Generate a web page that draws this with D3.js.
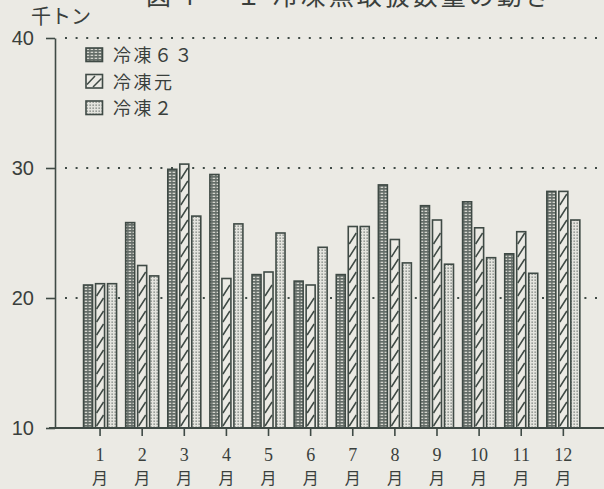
<!DOCTYPE html>
<html>
<head>
<meta charset="utf-8">
<script src="https://cdn.jsdelivr.net/npm/d3@7"></script>
<style>
  body { margin:0; background:#ebeae4; }
  svg { display:block; }
</style>
</head>
<body>
<div id="chart"></div>
<script>
// 月別データ（千トン）
const months = ["1","2","3","4","5","6","7","8","9","10","11","12"];
const seriesNames = ["冷凍６３","冷凍元","冷凍２"];
const reito63 = [21.0,25.8,29.9,29.5,21.8,21.3,21.8,28.7,27.1,27.4,23.4,28.2];
const reitoGan = [21.1,22.5,30.3,21.5,22.0,21.0,25.5,24.5,26.0,25.4,25.1,28.2];
const reito2 = [21.1,21.7,26.3,25.7,25.0,23.9,25.5,22.7,22.6,23.1,21.9,26.0];
const yTicks = [10,20,30,40];
const gridTicks = [20,30,40];

const ink = "#3f4a45";
const paper = "#ebeae4";
const W = 604, H = 489;

const svg = d3.select("#chart").append("svg").attr("width",W).attr("height",H);
svg.append("rect").attr("width",W).attr("height",H).attr("fill",paper);

// patterns
const defs = svg.append("defs");
const p1 = defs.append("pattern").attr("id","pat63").attr("patternUnits","userSpaceOnUse")
  .attr("width",4).attr("height",3);
p1.append("rect").attr("width",4).attr("height",3).attr("fill","#646d68");
p1.append("rect").attr("x",0.6).attr("y",0.7).attr("width",2.6).attr("height",1.3).attr("fill","#d6d6cf");
const p3 = defs.append("pattern").attr("id","pat2").attr("patternUnits","userSpaceOnUse")
  .attr("width",3).attr("height",3);
p3.append("rect").attr("width",3).attr("height",3).attr("fill","#e4e4de");
p3.append("rect").attr("x",0.5).attr("y",0.5).attr("width",1.3).attr("height",1.3).attr("fill","#6f7772");

const fills = ["url(#pat63)", paper, "url(#pat2)"];

const x0 = d3.scaleBand().domain(months).range([79, 584.4]).padding(0);
const groupW = 33;
const x1 = d3.scaleBand().domain(seriesNames).range([0, groupW]).paddingInner(0.25).paddingOuter(0);
const y = d3.scaleLinear().domain([10,40]).range([428,38]);

// grid lines (dotted)
svg.append("g").selectAll("line").data(gridTicks).enter().append("line")
  .attr("x1",65).attr("x2",W).attr("y1",d=>y(d)).attr("y2",d=>y(d))
  .attr("stroke",ink).attr("stroke-width",2).attr("stroke-dasharray","2,8.6");

// bars
const rows = months.map((m,i)=>({m:m, vals:[reito63[i],reitoGan[i],reito2[i]]}));
const barData = [];
rows.forEach(r=>r.vals.forEach((v,j)=>barData.push({m:r.m, s:seriesNames[j], j:j, v:v})));

function slashPath(x, top, w, bottom){
  const step = 13, rise = 11;
  let d = "";
  for(let y0 = bottom - 2; y0 - rise > top + 1; y0 -= step){
    d += `M${x+1},${y0}L${x+w-1},${y0-rise}`;
  }
  return d;
}

const bx = d => x0(d.m) + x0.bandwidth()/2 - groupW/2 + x1(d.s);
const g = svg.append("g");
g.selectAll("rect.bar").data(barData).enter().append("rect").attr("class","bar")
  .attr("x",bx).attr("y",d=>y(d.v)).attr("width",x1.bandwidth())
  .attr("height",d=>y(10)-y(d.v)).attr("fill",d=>fills[d.j])
  .attr("stroke",ink).attr("stroke-width",1.6);
g.selectAll("path.slash").data(barData.filter(d=>d.j===1)).enter().append("path")
  .attr("class","slash")
  .attr("d",d=>slashPath(bx(d), y(d.v), x1.bandwidth(), y(10)))
  .attr("stroke",ink).attr("stroke-width",1.5).attr("fill","none");

// y axis
const yAxis = d3.axisLeft(y).tickValues(yTicks).tickSize(9).tickSizeOuter(0).tickPadding(12);
const yg = svg.append("g").attr("transform","translate(55,0)").call(yAxis);
yg.select(".domain").attr("stroke",ink).attr("stroke-width",1.6);
yg.selectAll(".tick line").attr("stroke",ink).attr("stroke-width",1.6);
yg.selectAll(".tick text").attr("fill","#3a3f3c").style("font-family","Liberation Sans, Arial, sans-serif").style("font-size","20px");

// baseline
svg.append("line").attr("x1",49).attr("x2",W).attr("y1",y(10)).attr("y2",y(10))
  .attr("stroke",ink).attr("stroke-width",1.8);

// x axis ticks and labels
const xAxis = d3.axisBottom(x0).tickSize(8).tickFormat("");
const xg = svg.append("g").attr("transform",`translate(0,${y(10)})`).call(xAxis);
xg.select(".domain").remove();
xg.selectAll(".tick line").attr("stroke",ink).attr("stroke-width",1.6);
const lab = svg.append("g").selectAll("g").data(months).enter().append("g")
  .attr("transform",d=>`translate(${x0(d)+x0.bandwidth()/2},0)`);
lab.append("text").attr("y",461).attr("text-anchor","middle")
  .style("font-family","Liberation Serif, DejaVu Serif, serif").style("font-size","18px")
  .attr("fill","#3a3f3c").text(d=>d);
lab.append("text").attr("y",484).attr("text-anchor","middle")
  .style("font-family","Noto Sans CJK JP").style("font-size","16px")
  .attr("fill","#3a3f3c").text("月");

// unit label
svg.append("text").attr("x",31).attr("y",24).style("font-family","Noto Sans CJK JP")
  .style("font-size","20px").attr("fill","#3a3f3c").text("千トン");

// title (cut off at top)
svg.append("text").attr("x",146).attr("y",5).style("font-family","Noto Sans CJK JP")
  .style("font-size","25px").attr("fill","#3a3f3c").attr("letter-spacing","3px")
  .text("図４ − １  冷凍魚取扱数量の動き");

// legend
const leg = svg.append("g").selectAll("g").data(seriesNames).enter().append("g")
  .attr("transform",(d,i)=>`translate(86,${48 + i*26.5})`);
leg.append("rect").attr("width",16.5).attr("height",13.5).attr("fill",(d,i)=>fills[i])
  .attr("stroke",ink).attr("stroke-width",1.6);
leg.filter((d,i)=>i===1).append("path")
  .attr("d","M1,10L9,1.5M7,12.5L15.5,4")
  .attr("stroke",ink).attr("stroke-width",1.5).attr("fill","none");
leg.append("text").attr("x",27).attr("y",14).style("font-family","Noto Sans CJK JP")
  .style("font-size","18px").attr("letter-spacing","2.5px").attr("fill","#3a3f3c").text(d=>d);
</script>
</body>
</html>
